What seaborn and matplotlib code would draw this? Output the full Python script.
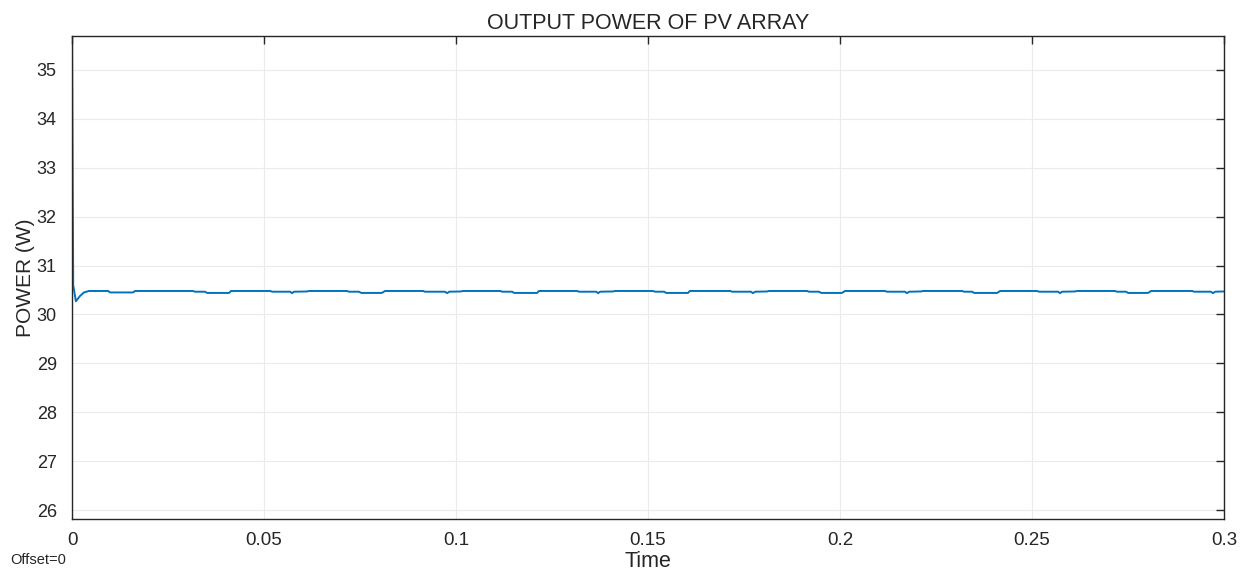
import matplotlib
matplotlib.use("Agg")
import matplotlib.pyplot as plt
import numpy as np
import pandas as pd
import seaborn as sns

# PV array output power (time in s, power in W)
time_s = [
    0.0000, 0.0003, 0.0010, 0.0021, 0.0031, 0.0044, 0.0094, 0.0099, 0.0159, 0.0164,
    0.0315, 0.0320, 0.0346, 0.0352, 0.0409, 0.0414, 0.0516, 0.0521, 0.0568, 0.0573,
    0.0578, 0.0612, 0.0617, 0.0716, 0.0721, 0.0747, 0.0753, 0.0807, 0.0815, 0.0914,
    0.0919, 0.0971, 0.0977, 0.0982, 0.1013, 0.1018, 0.1115, 0.1120, 0.1146, 0.1151,
    0.1211, 0.1216, 0.1315, 0.1320, 0.1365, 0.1370, 0.1375, 0.1409, 0.1414, 0.1513,
    0.1518, 0.1542, 0.1547, 0.1604, 0.1609, 0.1714, 0.1719, 0.1768, 0.1773, 0.1779,
    0.1810, 0.1815, 0.1914, 0.1919, 0.1945, 0.1951, 0.2005, 0.2013, 0.2117, 0.2122,
    0.2169, 0.2174, 0.2180, 0.2211, 0.2216, 0.2318, 0.2323, 0.2344, 0.2349, 0.2409,
    0.2417, 0.2513, 0.2518, 0.2568, 0.2573, 0.2578, 0.2612, 0.2617, 0.2716, 0.2721,
    0.2745, 0.2750, 0.2802, 0.2810, 0.2917, 0.2922, 0.2966, 0.2971, 0.2977, 0.3000,
]
power_w = [
    35.70, 30.60, 30.27, 30.38, 30.45, 30.48, 30.48, 30.45, 30.45, 30.48,
    30.48, 30.465, 30.465, 30.44, 30.44, 30.48, 30.48, 30.465, 30.465, 30.435,
    30.465, 30.47, 30.48, 30.48, 30.465, 30.465, 30.44, 30.44, 30.48, 30.48,
    30.465, 30.465, 30.435, 30.465, 30.47, 30.48, 30.48, 30.465, 30.465, 30.44,
    30.44, 30.48, 30.48, 30.465, 30.465, 30.435, 30.465, 30.47, 30.48, 30.48,
    30.465, 30.465, 30.44, 30.44, 30.48, 30.48, 30.465, 30.465, 30.435, 30.465,
    30.47, 30.48, 30.48, 30.465, 30.465, 30.44, 30.44, 30.48, 30.48, 30.465,
    30.465, 30.435, 30.465, 30.47, 30.48, 30.48, 30.465, 30.465, 30.44, 30.44,
    30.48, 30.48, 30.465, 30.465, 30.435, 30.465, 30.47, 30.48, 30.48, 30.465,
    30.465, 30.44, 30.44, 30.48, 30.48, 30.465, 30.465, 30.435, 30.465, 30.47,
]
x_ticks = [0, 0.05, 0.1, 0.15, 0.2, 0.25, 0.3]
x_tick_labels = ["0", "0.05", "0.1", "0.15", "0.2", "0.25", "0.3"]
y_ticks = [26, 27, 28, 29, 30, 31, 32, 33, 34, 35]

sns.set_style("whitegrid")
plt.rcParams["font.family"] = ["Liberation Sans", "DejaVu Sans"]

df = pd.DataFrame({"time": time_s, "power": power_w})

fig = plt.figure(figsize=(12.53, 5.79), dpi=100)
ax = fig.add_axes([0.0575, 0.1036, 0.9194, 0.8342])
sns.lineplot(data=df, x="time", y="power", estimator=None, color="#0072BD", linewidth=1.4, ax=ax)

ax.set_xlim(0, 0.3)
ax.set_ylim(25.82, 35.69)
ax.set_xticks(x_ticks)
ax.set_xticklabels(x_tick_labels)
ax.set_yticks(y_ticks)
ax.grid(True, color="#ebebeb", linewidth=0.8)
for side in ["left", "right", "top", "bottom"]:
    ax.spines[side].set_visible(True)
    ax.spines[side].set_color("#262626")
    ax.spines[side].set_linewidth(1.0)
ax.tick_params(axis="both", direction="in", length=6, width=1, color="#262626",
               labelsize=13.5, labelcolor="#262626", top=True, right=True)
ax.tick_params(axis="y", pad=11, labelsize=13)
ax.tick_params(axis="x", pad=9)

ax.set_title("OUTPUT POWER OF PV ARRAY", fontsize=15.5, color="#262626", pad=5)
ax.set_xlabel("Time", fontsize=15.5, color="#262626", labelpad=2)
ax.set_ylabel("POWER (W)", fontsize=15, color="#262626")
ax.yaxis.set_label_coords(-0.032, 0.5)
fig.text(0.008, 0.02, "Offset=0", fontsize=10.5, color="#262626", ha="left", va="bottom")

fig.savefig("out.png", dpi=100)
plt.close(fig)
